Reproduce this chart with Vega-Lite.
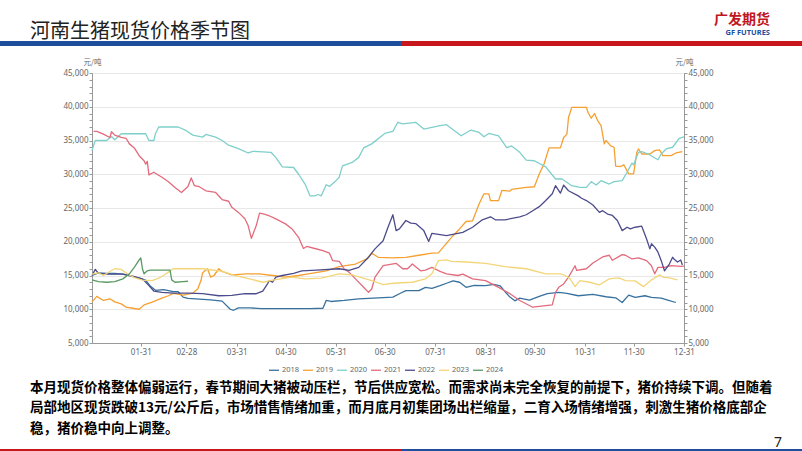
{
  "$schema": "https://vega.github.io/schema/vega-lite/v6.json",
  "background": "#ffffff",
  "padding": {"left": 0, "right": 0, "top": 12, "bottom": 0},
  "spacing": 6,
  "title": {
    "text": "广发期货",
    "subtitle": "GF FUTURES",
    "anchor": "end",
    "frame": "bounds",
    "dx": -32,
    "dy": 14,
    "offset": 0,
    "font": "Noto Sans CJK SC",
    "fontSize": 14,
    "fontWeight": "bold",
    "color": "#c0161d",
    "subtitleFont": "Noto Sans",
    "subtitleFontSize": 7.5,
    "subtitleFontWeight": "bold",
    "subtitleColor": "#1f4e9c",
    "subtitlePadding": 2
  },
  "resolve": {"scale": {"color": "independent", "strokeWidth": "independent"}},
  "config": {"view": {"stroke": null}},
  "vconcat": [
    {
      "width": 802,
      "height": 5,
      "title": {
        "text": "河南生猪现货价格季节图",
        "anchor": "start",
        "frame": "group",
        "dx": 30,
        "offset": -1,
        "font": "Noto Sans CJK SC",
        "fontSize": 20,
        "fontWeight": "normal",
        "color": "#222222"
      },
      "data": {"values": [{"part": "left"}, {"part": "right"}]},
      "mark": {"type": "bar"},
      "encoding": {
        "x": {"field": "part", "type": "nominal", "axis": null, "scale": {"paddingInner": 0, "paddingOuter": 0}},
        "color": {"field": "part", "type": "nominal", "legend": null, "scale": {"domain": ["left", "right"], "range": ["#1f4e9c", "#c8161d"]}}
      }
    },
    {
      "spacing": 0,
      "resolve": {"scale": {"color": "independent", "strokeWidth": "independent"}},
      "hconcat": [
        {
          "width": 1,
          "height": 1,
          "data": {"values": [{"part": "spacer"}]},
          "mark": {"type": "text", "text": ""}
        },
        {
          "width": 592,
          "height": 270,
          "data": {
            "format": {"parse": {"date": "date:'%m-%d'"}},
            "values": [
              {"date":"01-01","year":"2018","price":15000},{"date":"01-05","year":"2018","price":15400},{"date":"01-10","year":"2018","price":15300},{"date":"01-15","year":"2018","price":15300},{"date":"01-20","year":"2018","price":15200},{"date":"01-25","year":"2018","price":14900},{"date":"01-30","year":"2018","price":14600},{"date":"02-03","year":"2018","price":14300},{"date":"02-06","year":"2018","price":13400},{"date":"02-09","year":"2018","price":12800},{"date":"02-14","year":"2018","price":12900},{"date":"02-20","year":"2018","price":12600},{"date":"02-23","year":"2018","price":12600},{"date":"02-26","year":"2018","price":11800},{"date":"03-01","year":"2018","price":11600},{"date":"03-08","year":"2018","price":11500},{"date":"03-15","year":"2018","price":11400},{"date":"03-22","year":"2018","price":11200},{"date":"03-27","year":"2018","price":10000},{"date":"03-29","year":"2018","price":9850},{"date":"04-01","year":"2018","price":10200},{"date":"04-08","year":"2018","price":10200},{"date":"04-15","year":"2018","price":10100},{"date":"04-25","year":"2018","price":10100},{"date":"05-05","year":"2018","price":10100},{"date":"05-15","year":"2018","price":10100},{"date":"05-23","year":"2018","price":10150},{"date":"05-25","year":"2018","price":11300},{"date":"05-28","year":"2018","price":11150},{"date":"06-05","year":"2018","price":11300},{"date":"06-14","year":"2018","price":11550},{"date":"06-26","year":"2018","price":11700},{"date":"07-05","year":"2018","price":11800},{"date":"07-09","year":"2018","price":12300},{"date":"07-13","year":"2018","price":12750},{"date":"07-21","year":"2018","price":12750},{"date":"07-25","year":"2018","price":13250},{"date":"07-29","year":"2018","price":13100},{"date":"08-03","year":"2018","price":13500},{"date":"08-07","year":"2018","price":13850},{"date":"08-11","year":"2018","price":14200},{"date":"08-15","year":"2018","price":14000},{"date":"08-19","year":"2018","price":13250},{"date":"08-24","year":"2018","price":13550},{"date":"08-31","year":"2018","price":13500},{"date":"09-05","year":"2018","price":13700},{"date":"09-09","year":"2018","price":13450},{"date":"09-12","year":"2018","price":12600},{"date":"09-15","year":"2018","price":11800},{"date":"09-18","year":"2018","price":11250},{"date":"09-21","year":"2018","price":11650},{"date":"09-27","year":"2018","price":11350},{"date":"10-03","year":"2018","price":11900},{"date":"10-08","year":"2018","price":12300},{"date":"10-15","year":"2018","price":12500},{"date":"10-20","year":"2018","price":12350},{"date":"10-27","year":"2018","price":12000},{"date":"11-05","year":"2018","price":12200},{"date":"11-13","year":"2018","price":11850},{"date":"11-19","year":"2018","price":11700},{"date":"11-23","year":"2018","price":11000},{"date":"11-27","year":"2018","price":12100},{"date":"12-01","year":"2018","price":11750},{"date":"12-07","year":"2018","price":12000},{"date":"12-11","year":"2018","price":11750},{"date":"12-17","year":"2018","price":11650},{"date":"12-21","year":"2018","price":11350},{"date":"12-26","year":"2018","price":11000},
              {"date":"01-01","year":"2019","price":11100},{"date":"01-04","year":"2019","price":11900},{"date":"01-08","year":"2019","price":11300},{"date":"01-12","year":"2019","price":11550},{"date":"01-15","year":"2019","price":11100},{"date":"01-19","year":"2019","price":10800},{"date":"01-22","year":"2019","price":10300},{"date":"01-26","year":"2019","price":10150},{"date":"01-30","year":"2019","price":10000},{"date":"02-02","year":"2019","price":10650},{"date":"02-07","year":"2019","price":11050},{"date":"02-13","year":"2019","price":11650},{"date":"02-17","year":"2019","price":12000},{"date":"02-20","year":"2019","price":12350},{"date":"02-26","year":"2019","price":12100},{"date":"03-04","year":"2019","price":12400},{"date":"03-07","year":"2019","price":13000},{"date":"03-09","year":"2019","price":14250},{"date":"03-10","year":"2019","price":15400},{"date":"03-13","year":"2019","price":16000},{"date":"03-15","year":"2019","price":14750},{"date":"03-17","year":"2019","price":15000},{"date":"03-20","year":"2019","price":16000},{"date":"03-22","year":"2019","price":15600},{"date":"03-28","year":"2019","price":15100},{"date":"04-06","year":"2019","price":15250},{"date":"04-14","year":"2019","price":15250},{"date":"04-22","year":"2019","price":15000},{"date":"04-30","year":"2019","price":14750},{"date":"05-08","year":"2019","price":15000},{"date":"05-14","year":"2019","price":15250},{"date":"05-25","year":"2019","price":15700},{"date":"06-02","year":"2019","price":16300},{"date":"06-12","year":"2019","price":16700},{"date":"06-19","year":"2019","price":17450},{"date":"06-22","year":"2019","price":18300},{"date":"06-26","year":"2019","price":17700},{"date":"07-05","year":"2019","price":17600},{"date":"07-13","year":"2019","price":17700},{"date":"07-21","year":"2019","price":18000},{"date":"07-29","year":"2019","price":18300},{"date":"08-02","year":"2019","price":18350},{"date":"08-05","year":"2019","price":19200},{"date":"08-11","year":"2019","price":20900},{"date":"08-15","year":"2019","price":21900},{"date":"08-19","year":"2019","price":23000},{"date":"08-23","year":"2019","price":23100},{"date":"08-27","year":"2019","price":25600},{"date":"08-30","year":"2019","price":27100},{"date":"09-02","year":"2019","price":27100},{"date":"09-03","year":"2019","price":26100},{"date":"09-08","year":"2019","price":26100},{"date":"09-10","year":"2019","price":27600},{"date":"09-15","year":"2019","price":27500},{"date":"09-16","year":"2019","price":27750},{"date":"09-25","year":"2019","price":28050},{"date":"09-30","year":"2019","price":28150},{"date":"10-03","year":"2019","price":30050},{"date":"10-06","year":"2019","price":31550},{"date":"10-09","year":"2019","price":33900},{"date":"10-16","year":"2019","price":33900},{"date":"10-18","year":"2019","price":35450},{"date":"10-20","year":"2019","price":35950},{"date":"10-21","year":"2019","price":38400},{"date":"10-23","year":"2019","price":39900},{"date":"11-01","year":"2019","price":39900},{"date":"11-02","year":"2019","price":39150},{"date":"11-04","year":"2019","price":38300},{"date":"11-06","year":"2019","price":39000},{"date":"11-08","year":"2019","price":37900},{"date":"11-10","year":"2019","price":37200},{"date":"11-12","year":"2019","price":34500},{"date":"11-13","year":"2019","price":35000},{"date":"11-16","year":"2019","price":34200},{"date":"11-18","year":"2019","price":34000},{"date":"11-19","year":"2019","price":31200},{"date":"11-22","year":"2019","price":31150},{"date":"11-24","year":"2019","price":31400},{"date":"11-27","year":"2019","price":30050},{"date":"11-30","year":"2019","price":30050},{"date":"12-02","year":"2019","price":33250},{"date":"12-03","year":"2019","price":33750},{"date":"12-05","year":"2019","price":33000},{"date":"12-10","year":"2019","price":33000},{"date":"12-13","year":"2019","price":33500},{"date":"12-16","year":"2019","price":33600},{"date":"12-18","year":"2019","price":32750},{"date":"12-23","year":"2019","price":32750},{"date":"12-26","year":"2019","price":33150},{"date":"12-30","year":"2019","price":33350},
              {"date":"01-01","year":"2020","price":33500},{"date":"01-03","year":"2020","price":35000},{"date":"01-10","year":"2020","price":35000},{"date":"01-13","year":"2020","price":35600},{"date":"01-15","year":"2020","price":35100},{"date":"01-19","year":"2020","price":36000},{"date":"02-03","year":"2020","price":36000},{"date":"02-05","year":"2020","price":35000},{"date":"02-08","year":"2020","price":35000},{"date":"02-09","year":"2020","price":36000},{"date":"02-11","year":"2020","price":37000},{"date":"02-23","year":"2020","price":37000},{"date":"02-28","year":"2020","price":36450},{"date":"03-04","year":"2020","price":35800},{"date":"03-10","year":"2020","price":35500},{"date":"03-12","year":"2020","price":35900},{"date":"03-18","year":"2020","price":35500},{"date":"03-22","year":"2020","price":35000},{"date":"03-26","year":"2020","price":34300},{"date":"04-01","year":"2020","price":33800},{"date":"04-07","year":"2020","price":33150},{"date":"04-10","year":"2020","price":33400},{"date":"04-21","year":"2020","price":33250},{"date":"04-24","year":"2020","price":32500},{"date":"04-28","year":"2020","price":31100},{"date":"05-05","year":"2020","price":31000},{"date":"05-08","year":"2020","price":30000},{"date":"05-12","year":"2020","price":28550},{"date":"05-15","year":"2020","price":26800},{"date":"05-18","year":"2020","price":26800},{"date":"05-20","year":"2020","price":27000},{"date":"05-22","year":"2020","price":26800},{"date":"05-25","year":"2020","price":28450},{"date":"05-27","year":"2020","price":28200},{"date":"05-31","year":"2020","price":29050},{"date":"06-02","year":"2020","price":29550},{"date":"06-04","year":"2020","price":31250},{"date":"06-10","year":"2020","price":31750},{"date":"06-14","year":"2020","price":32500},{"date":"06-17","year":"2020","price":33900},{"date":"06-22","year":"2020","price":34500},{"date":"06-30","year":"2020","price":36050},{"date":"07-05","year":"2020","price":36350},{"date":"07-08","year":"2020","price":37700},{"date":"07-11","year":"2020","price":37450},{"date":"07-19","year":"2020","price":37700},{"date":"07-24","year":"2020","price":36700},{"date":"07-29","year":"2020","price":36950},{"date":"08-03","year":"2020","price":37200},{"date":"08-07","year":"2020","price":37350},{"date":"08-09","year":"2020","price":36950},{"date":"08-16","year":"2020","price":35700},{"date":"08-22","year":"2020","price":36550},{"date":"08-27","year":"2020","price":36200},{"date":"08-30","year":"2020","price":35550},{"date":"09-02","year":"2020","price":36050},{"date":"09-08","year":"2020","price":35700},{"date":"09-13","year":"2020","price":33950},{"date":"09-16","year":"2020","price":34200},{"date":"09-21","year":"2020","price":33250},{"date":"09-25","year":"2020","price":32100},{"date":"09-30","year":"2020","price":32000},{"date":"10-07","year":"2020","price":31100},{"date":"10-13","year":"2020","price":29300},{"date":"10-17","year":"2020","price":29300},{"date":"10-23","year":"2020","price":28300},{"date":"10-28","year":"2020","price":28050},{"date":"11-01","year":"2020","price":28050},{"date":"11-04","year":"2020","price":28900},{"date":"11-07","year":"2020","price":28400},{"date":"11-10","year":"2020","price":29050},{"date":"11-15","year":"2020","price":28550},{"date":"11-18","year":"2020","price":28900},{"date":"11-23","year":"2020","price":29050},{"date":"11-26","year":"2020","price":30300},{"date":"11-29","year":"2020","price":31650},{"date":"11-30","year":"2020","price":31400},{"date":"12-03","year":"2020","price":33250},{"date":"12-05","year":"2020","price":33350},{"date":"12-09","year":"2020","price":33000},{"date":"12-15","year":"2020","price":32150},{"date":"12-17","year":"2020","price":33000},{"date":"12-20","year":"2020","price":33750},{"date":"12-24","year":"2020","price":34000},{"date":"12-28","year":"2020","price":35300},{"date":"12-31","year":"2020","price":35550},
              {"date":"01-02","year":"2021","price":36350},{"date":"01-04","year":"2021","price":36350},{"date":"01-08","year":"2021","price":35950},{"date":"01-12","year":"2021","price":35450},{"date":"01-13","year":"2021","price":36300},{"date":"01-15","year":"2021","price":35800},{"date":"01-19","year":"2021","price":35450},{"date":"01-22","year":"2021","price":35300},{"date":"01-24","year":"2021","price":34500},{"date":"01-27","year":"2021","price":33900},{"date":"01-30","year":"2021","price":32750},{"date":"02-02","year":"2021","price":32000},{"date":"02-03","year":"2021","price":31500},{"date":"02-04","year":"2021","price":31900},{"date":"02-05","year":"2021","price":29900},{"date":"02-08","year":"2021","price":30300},{"date":"02-13","year":"2021","price":29550},{"date":"02-17","year":"2021","price":28900},{"date":"02-21","year":"2021","price":28050},{"date":"02-25","year":"2021","price":27300},{"date":"03-01","year":"2021","price":28200},{"date":"03-03","year":"2021","price":29450},{"date":"03-05","year":"2021","price":28300},{"date":"03-08","year":"2021","price":28150},{"date":"03-12","year":"2021","price":27550},{"date":"03-18","year":"2021","price":27300},{"date":"03-22","year":"2021","price":26250},{"date":"03-26","year":"2021","price":26000},{"date":"03-28","year":"2021","price":25100},{"date":"04-01","year":"2021","price":24350},{"date":"04-05","year":"2021","price":23400},{"date":"04-07","year":"2021","price":22400},{"date":"04-09","year":"2021","price":20500},{"date":"04-12","year":"2021","price":22400},{"date":"04-14","year":"2021","price":24250},{"date":"04-17","year":"2021","price":24100},{"date":"04-20","year":"2021","price":23850},{"date":"04-24","year":"2021","price":23400},{"date":"04-30","year":"2021","price":22650},{"date":"05-04","year":"2021","price":21900},{"date":"05-08","year":"2021","price":20650},{"date":"05-11","year":"2021","price":19000},{"date":"05-13","year":"2021","price":19300},{"date":"05-18","year":"2021","price":19000},{"date":"05-23","year":"2021","price":18700},{"date":"05-27","year":"2021","price":18300},{"date":"05-29","year":"2021","price":17200},{"date":"06-02","year":"2021","price":17100},{"date":"06-05","year":"2021","price":16000},{"date":"06-08","year":"2021","price":15500},{"date":"06-12","year":"2021","price":14500},{"date":"06-17","year":"2021","price":13250},{"date":"06-20","year":"2021","price":12500},{"date":"06-22","year":"2021","price":13000},{"date":"06-24","year":"2021","price":14750},{"date":"06-29","year":"2021","price":16450},{"date":"07-07","year":"2021","price":16800},{"date":"07-11","year":"2021","price":16000},{"date":"07-14","year":"2021","price":16000},{"date":"07-17","year":"2021","price":16700},{"date":"07-22","year":"2021","price":15700},{"date":"07-25","year":"2021","price":15800},{"date":"07-29","year":"2021","price":16200},{"date":"08-03","year":"2021","price":15600},{"date":"08-07","year":"2021","price":15250},{"date":"08-14","year":"2021","price":15000},{"date":"08-17","year":"2021","price":15200},{"date":"08-23","year":"2021","price":14500},{"date":"08-31","year":"2021","price":14250},{"date":"09-08","year":"2021","price":13250},{"date":"09-15","year":"2021","price":12300},{"date":"09-21","year":"2021","price":11300},{"date":"09-29","year":"2021","price":10300},{"date":"10-11","year":"2021","price":10650},{"date":"10-13","year":"2021","price":12500},{"date":"10-15","year":"2021","price":13250},{"date":"10-18","year":"2021","price":13750},{"date":"10-21","year":"2021","price":14750},{"date":"10-25","year":"2021","price":16450},{"date":"10-26","year":"2021","price":15750},{"date":"11-01","year":"2021","price":16000},{"date":"11-05","year":"2021","price":16850},{"date":"11-11","year":"2021","price":17750},{"date":"11-15","year":"2021","price":18000},{"date":"11-17","year":"2021","price":17250},{"date":"11-23","year":"2021","price":18100},{"date":"11-25","year":"2021","price":18000},{"date":"11-29","year":"2021","price":17450},{"date":"12-03","year":"2021","price":17600},{"date":"12-08","year":"2021","price":17200},{"date":"12-11","year":"2021","price":16450},{"date":"12-13","year":"2021","price":15250},{"date":"12-15","year":"2021","price":16200},{"date":"12-19","year":"2021","price":16200},{"date":"12-23","year":"2021","price":16450},{"date":"12-29","year":"2021","price":16350},{"date":"12-31","year":"2021","price":16400},
              {"date":"01-01","year":"2022","price":15000},{"date":"01-03","year":"2022","price":15900},{"date":"01-05","year":"2022","price":15300},{"date":"01-10","year":"2022","price":15200},{"date":"01-20","year":"2022","price":15200},{"date":"01-26","year":"2022","price":14900},{"date":"02-01","year":"2022","price":14500},{"date":"02-05","year":"2022","price":13500},{"date":"02-08","year":"2022","price":12700},{"date":"02-13","year":"2022","price":12500},{"date":"02-20","year":"2022","price":12400},{"date":"03-01","year":"2022","price":12400},{"date":"03-10","year":"2022","price":12300},{"date":"03-20","year":"2022","price":12000},{"date":"03-28","year":"2022","price":12050},{"date":"04-05","year":"2022","price":12300},{"date":"04-12","year":"2022","price":12300},{"date":"04-16","year":"2022","price":12700},{"date":"04-19","year":"2022","price":13800},{"date":"04-20","year":"2022","price":14250},{"date":"04-22","year":"2022","price":14000},{"date":"04-24","year":"2022","price":14750},{"date":"04-28","year":"2022","price":15000},{"date":"05-05","year":"2022","price":15300},{"date":"05-10","year":"2022","price":15700},{"date":"05-19","year":"2022","price":15800},{"date":"06-02","year":"2022","price":16000},{"date":"06-08","year":"2022","price":15750},{"date":"06-14","year":"2022","price":16200},{"date":"06-20","year":"2022","price":17700},{"date":"06-24","year":"2022","price":18950},{"date":"06-29","year":"2022","price":20150},{"date":"07-02","year":"2022","price":22150},{"date":"07-05","year":"2022","price":24000},{"date":"07-07","year":"2022","price":21650},{"date":"07-09","year":"2022","price":21900},{"date":"07-13","year":"2022","price":23150},{"date":"07-16","year":"2022","price":22750},{"date":"07-19","year":"2022","price":22700},{"date":"07-24","year":"2022","price":21650},{"date":"07-27","year":"2022","price":20050},{"date":"07-29","year":"2022","price":21250},{"date":"08-07","year":"2022","price":20900},{"date":"08-17","year":"2022","price":21400},{"date":"08-23","year":"2022","price":22150},{"date":"08-29","year":"2022","price":23250},{"date":"09-03","year":"2022","price":23700},{"date":"09-06","year":"2022","price":23250},{"date":"09-12","year":"2022","price":23250},{"date":"09-21","year":"2022","price":23700},{"date":"09-25","year":"2022","price":24000},{"date":"09-29","year":"2022","price":24600},{"date":"10-03","year":"2022","price":25200},{"date":"10-07","year":"2022","price":26100},{"date":"10-11","year":"2022","price":27100},{"date":"10-13","year":"2022","price":28300},{"date":"10-16","year":"2022","price":27200},{"date":"10-18","year":"2022","price":28400},{"date":"10-21","year":"2022","price":27550},{"date":"10-27","year":"2022","price":26800},{"date":"10-29","year":"2022","price":26450},{"date":"11-01","year":"2022","price":26100},{"date":"11-05","year":"2022","price":25450},{"date":"11-09","year":"2022","price":24350},{"date":"11-11","year":"2022","price":24600},{"date":"11-14","year":"2022","price":24100},{"date":"11-17","year":"2022","price":23900},{"date":"11-20","year":"2022","price":23150},{"date":"11-23","year":"2022","price":21650},{"date":"11-26","year":"2022","price":22150},{"date":"11-28","year":"2022","price":21900},{"date":"12-01","year":"2022","price":22150},{"date":"12-05","year":"2022","price":22300},{"date":"12-08","year":"2022","price":20400},{"date":"12-10","year":"2022","price":18950},{"date":"12-11","year":"2022","price":19700},{"date":"12-13","year":"2022","price":19200},{"date":"12-15","year":"2022","price":18450},{"date":"12-17","year":"2022","price":17200},{"date":"12-19","year":"2022","price":15700},{"date":"12-22","year":"2022","price":16700},{"date":"12-24","year":"2022","price":17700},{"date":"12-25","year":"2022","price":17400},{"date":"12-27","year":"2022","price":17000},{"date":"12-29","year":"2022","price":17300},{"date":"12-30","year":"2022","price":16550},
              {"date":"01-01","year":"2023","price":15200},{"date":"01-05","year":"2023","price":15400},{"date":"01-08","year":"2023","price":15000},{"date":"01-12","year":"2023","price":15600},{"date":"01-15","year":"2023","price":16000},{"date":"01-19","year":"2023","price":15900},{"date":"01-23","year":"2023","price":15200},{"date":"01-27","year":"2023","price":14700},{"date":"02-01","year":"2023","price":14300},{"date":"02-07","year":"2023","price":14250},{"date":"02-11","year":"2023","price":14600},{"date":"02-14","year":"2023","price":15000},{"date":"02-17","year":"2023","price":15500},{"date":"02-20","year":"2023","price":16000},{"date":"03-10","year":"2023","price":16000},{"date":"03-15","year":"2023","price":15850},{"date":"03-22","year":"2023","price":15600},{"date":"03-30","year":"2023","price":15000},{"date":"04-08","year":"2023","price":14500},{"date":"04-16","year":"2023","price":14000},{"date":"04-22","year":"2023","price":14300},{"date":"04-30","year":"2023","price":14600},{"date":"05-04","year":"2023","price":14750},{"date":"05-12","year":"2023","price":14500},{"date":"05-22","year":"2023","price":14600},{"date":"06-02","year":"2023","price":15250},{"date":"06-10","year":"2023","price":15100},{"date":"06-22","year":"2023","price":14250},{"date":"06-29","year":"2023","price":13650},{"date":"07-05","year":"2023","price":13850},{"date":"07-17","year":"2023","price":14000},{"date":"07-25","year":"2023","price":14500},{"date":"07-29","year":"2023","price":15250},{"date":"08-02","year":"2023","price":17200},{"date":"08-07","year":"2023","price":17300},{"date":"08-10","year":"2023","price":17100},{"date":"08-19","year":"2023","price":17000},{"date":"08-31","year":"2023","price":16800},{"date":"09-12","year":"2023","price":16300},{"date":"09-25","year":"2023","price":16000},{"date":"10-07","year":"2023","price":15250},{"date":"10-16","year":"2023","price":15250},{"date":"10-19","year":"2023","price":15000},{"date":"10-22","year":"2023","price":14500},{"date":"10-25","year":"2023","price":13350},{"date":"10-28","year":"2023","price":14250},{"date":"11-03","year":"2023","price":14000},{"date":"11-09","year":"2023","price":13600},{"date":"11-15","year":"2023","price":14500},{"date":"11-21","year":"2023","price":14650},{"date":"11-25","year":"2023","price":14250},{"date":"12-01","year":"2023","price":14200},{"date":"12-06","year":"2023","price":13350},{"date":"12-11","year":"2023","price":14350},{"date":"12-16","year":"2023","price":15100},{"date":"12-18","year":"2023","price":14750},{"date":"12-22","year":"2023","price":14650},{"date":"12-27","year":"2023","price":14350},
              {"date":"01-01","year":"2024","price":14350},{"date":"01-05","year":"2024","price":14100},{"date":"01-10","year":"2024","price":14000},{"date":"01-15","year":"2024","price":14100},{"date":"01-20","year":"2024","price":14500},{"date":"01-24","year":"2024","price":15250},{"date":"01-27","year":"2024","price":16200},{"date":"01-30","year":"2024","price":17300},{"date":"01-31","year":"2024","price":17600},{"date":"02-01","year":"2024","price":16000},{"date":"02-02","year":"2024","price":15250},{"date":"02-04","year":"2024","price":15700},{"date":"02-06","year":"2024","price":15800},{"date":"02-18","year":"2024","price":15800},{"date":"02-19","year":"2024","price":14350},{"date":"02-21","year":"2024","price":14000},{"date":"02-26","year":"2024","price":14100},{"date":"03-01","year":"2024","price":14150}
            ]
          },
          "resolve": {"axis": {"x": "independent", "y": "independent"}},
          "layer": [
            {
              "mark": {"type": "line", "strokeJoin": "round"},
              "encoding": {
                "x": {
                  "field": "date", "type": "temporal",
                  "scale": {"domain": [{"year": 1900, "month": 1, "date": 1}, {"year": 1900, "month": 12, "date": 31}]},
                  "axis": {
                    "orient": "bottom",
                    "title": null,
                    "format": "%m-%d",
                    "values": [
                      {"year": 1900, "month": 1, "date": 31}, {"year": 1900, "month": 2, "date": 28}, {"year": 1900, "month": 3, "date": 31},
                      {"year": 1900, "month": 4, "date": 30}, {"year": 1900, "month": 5, "date": 31}, {"year": 1900, "month": 6, "date": 30},
                      {"year": 1900, "month": 7, "date": 31}, {"year": 1900, "month": 8, "date": 31}, {"year": 1900, "month": 9, "date": 30},
                      {"year": 1900, "month": 10, "date": 31}, {"year": 1900, "month": 11, "date": 30}, {"year": 1900, "month": 12, "date": 31}
                    ],
                    "grid": false,
                    "labelFont": "Noto Sans", "labelFontSize": 8, "labelColor": "#666666",
                    "labelOverlap": false, "labelFlush": false, "labelPadding": 2,
                    "tickSize": 3, "tickColor": "#999999", "domainColor": "#999999"
                  }
                },
                "y": {
                  "field": "price", "type": "quantitative",
                  "scale": {"domain": [5000, 45000], "nice": false, "zero": false},
                  "axis": {
                    "orient": "left",
                    "values": [5000,6000,7000,8000,9000,10000,11000,12000,13000,14000,15000,16000,17000,18000,19000,20000,21000,22000,23000,24000,25000,26000,27000,28000,29000,30000,31000,32000,33000,34000,35000,36000,37000,38000,39000,40000,41000,42000,43000,44000,45000],
                    "format": ",d",
                    "labelExpr": "datum.value % 5000 === 0 ? datum.label : ''",
                    "labelOverlap": false, "labelFont": "Noto Sans", "labelFontSize": 8, "labelColor": "#666666", "labelPadding": 1,
                    "tickSize": 3, "tickColor": "#999999", "domainColor": "#999999",
                    "grid": true, "gridColor": "#e8e8e8",
                    "gridOpacity": {"condition": {"test": "datum.value % 5000 === 0", "value": 1}, "value": 0},
                    "minExtent": 91,
                    "title": "元/吨", "titleAngle": 0, "titleX": 0, "titleY": -11, "titleAlign": "center", "titleBaseline": "middle",
                    "titleFont": "Noto Sans CJK SC", "titleFontSize": 7.5, "titleFontWeight": "normal", "titleColor": "#666666"
                  }
                },
                "color": {
                  "field": "year", "type": "nominal",
                  "scale": {"domain": ["2018", "2019", "2020", "2021", "2022", "2023", "2024"], "range": ["#37719e", "#f5a031", "#7fcfca", "#e26b7c", "#4c4c8c", "#f3d67a", "#5a9a63"]},
                  "legend": {
                    "orient": "none", "legendX": 176, "legendY": 291, "direction": "horizontal", "title": null,
                    "symbolType": "stroke", "symbolSize": 100, "labelFont": "Noto Sans", "labelFontSize": 7.5, "labelColor": "#666666",
                    "labelOffset": 2, "columnPadding": 0
                  }
                },
                "strokeWidth": {
                  "field": "year", "type": "ordinal",
                  "scale": {"domain": ["2018", "2019", "2020", "2021", "2022", "2023", "2024"], "range": [1.3, 1.3, 1.3, 1.3, 1.3, 1.3, 2.8]},
                  "legend": {
                    "orient": "none", "legendX": 176, "legendY": 291, "direction": "horizontal", "title": null,
                    "symbolType": "stroke", "symbolSize": 100, "labelFont": "Noto Sans", "labelFontSize": 7.5, "labelColor": "#666666",
                    "labelOffset": 2, "columnPadding": 0
                  }
                }
              }
            },
            {
              "mark": {"type": "line", "strokeOpacity": 0},
              "encoding": {
                "x": {
                  "field": "date", "type": "temporal",
                  "axis": {"orient": "top", "labels": false, "ticks": false, "domain": false, "grid": false, "title": null, "minExtent": 21, "maxExtent": 21}
                },
                "y": {
                  "field": "price", "type": "quantitative",
                  "axis": {
                    "orient": "right",
                    "values": [5000,6000,7000,8000,9000,10000,11000,12000,13000,14000,15000,16000,17000,18000,19000,20000,21000,22000,23000,24000,25000,26000,27000,28000,29000,30000,31000,32000,33000,34000,35000,36000,37000,38000,39000,40000,41000,42000,43000,44000,45000],
                    "format": ",d",
                    "labelExpr": "datum.value % 5000 === 0 ? datum.label : ''",
                    "labelOverlap": false, "labelFont": "Noto Sans", "labelFontSize": 8, "labelColor": "#666666", "labelPadding": 1,
                    "tickSize": 3, "tickColor": "#999999", "domainColor": "#999999", "grid": false,
                    "title": "元/吨", "titleAngle": 0, "titleX": 0, "titleY": -11, "titleAlign": "center", "titleBaseline": "middle",
                    "titleFont": "Noto Sans CJK SC", "titleFontSize": 7.5, "titleFontWeight": "normal", "titleColor": "#666666"
                  }
                },
                "detail": {"field": "year", "type": "nominal"}
              }
            }
          ]
        }
      ]
    },
    {
      "width": 802,
      "height": 4,
      "title": {
        "text": [
          "本月现货价格整体偏弱运行，春节期间大猪被动压栏，节后供应宽松。而需求尚未完全恢复的前提下，猪价持续下调。但随着",
          "局部地区现货跌破13元/公斤后，市场惜售情绪加重，而月底月初集团场出栏缩量，二育入场情绪增强，刺激生猪价格底部企",
          "稳，猪价稳中向上调整。"
        ],
        "anchor": "start",
        "frame": "group",
        "align": "left",
        "dx": 30,
        "offset": 1,
        "font": "Noto Sans CJK SC",
        "fontSize": 13.5,
        "fontWeight": "bold",
        "lineHeight": 20.5,
        "color": "#000000"
      },
      "data": {"values": [{"part": "left", "label": ""}, {"part": "right", "label": "7"}]},
      "layer": [
        {
          "mark": {"type": "bar"},
          "encoding": {
            "x": {"field": "part", "type": "nominal", "axis": null, "scale": {"paddingInner": 0, "paddingOuter": 0}},
            "color": {"field": "part", "type": "nominal", "legend": null, "scale": {"domain": ["left", "right"], "range": ["#c8161d", "#1f4e9c"]}}
          }
        },
        {
          "transform": [{"filter": "datum.label !== ''"}],
          "mark": {"type": "text", "align": "right", "baseline": "alphabetic", "dx": -20, "dy": -4, "font": "Noto Sans", "fontSize": 14, "color": "#222222"},
          "encoding": {
            "x": {"field": "part", "type": "nominal", "bandPosition": 1},
            "text": {"field": "label", "type": "nominal"}
          }
        }
      ]
    }
  ]
}
